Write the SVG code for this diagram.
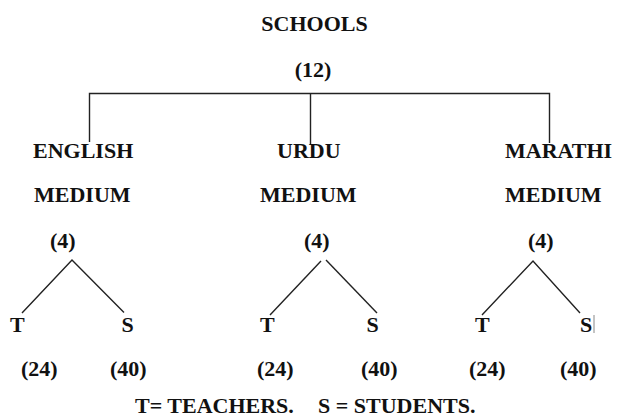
<svg xmlns="http://www.w3.org/2000/svg" width="617" height="419" viewBox="0 0 617 419">
<style>
text{font-family:"Liberation Serif","Times New Roman",serif;font-weight:bold;font-size:22px;fill:#111}
.c{text-anchor:middle}
.ln{stroke:#222;stroke-width:1.4;fill:none}
</style>
<rect width="617" height="419" fill="#fff"/>
<g id="connectors" class="ln">
<path d="M89.5 142V93.5H549.5V143"/>
<path d="M310.5 93.5V145"/>
<path d="M22 313L72 260L124 312.5"/>
<path d="M270 315L321 261"/>
<path d="M326 260L377 313"/>
<path d="M482 315L533 261L580 313"/>
<path d="M594 315V333" stroke="#888" stroke-width="1"/>
</g>
<g id="schools"><text class="c" x="314.5" y="30.5">SCHOOLS</text><text class="c" x="313" y="77">(12)</text></g>
<g id="english"><text x="33" y="158">ENGLISH</text><text x="34" y="201.5">MEDIUM</text><text x="50" y="248">(4)</text></g>
<g id="urdu"><text x="277" y="158">URDU</text><text x="260" y="201.5">MEDIUM</text><text x="304" y="248">(4)</text></g>
<g id="marathi"><text x="505" y="158">MARATHI</text><text x="505" y="201.5">MEDIUM</text><text x="528" y="248">(4)</text></g>
<g id="english-t"><text x="10" y="331.5">T</text><text x="21" y="376">(24)</text></g>
<g id="english-s"><text x="121.5" y="331.5">S</text><text x="110" y="376">(40)</text></g>
<g id="urdu-t"><text x="260" y="331.5">T</text><text x="257" y="376">(24)</text></g>
<g id="urdu-s"><text x="366.5" y="331.5">S</text><text x="361" y="376">(40)</text></g>
<g id="marathi-t"><text x="475" y="331.5">T</text><text x="469" y="376">(24)</text></g>
<g id="marathi-s"><text x="580" y="331.5">S</text><text x="560" y="376">(40)</text></g>
<g id="legend"><text x="135" y="413">T= TEACHERS.</text><text x="318" y="413">S = STUDENTS.</text></g>
</svg>
